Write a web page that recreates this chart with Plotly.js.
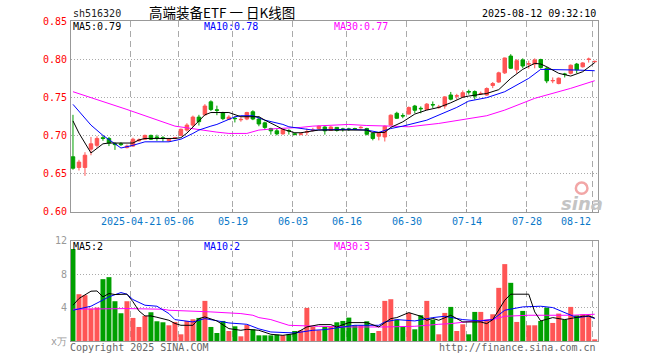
<!DOCTYPE html>
<html><head><meta charset="utf-8">
<script src="https://cdn.plot.ly/plotly-3.0.1.min.js"></script>
<style>html,body{margin:0;padding:0;background:#fff;}#chart{width:660px;height:360px;}</style>
</head><body><div id="chart"></div>
<script>
const openP = [0.672,0.658,0.658,0.682,0.687,0.697,0.696,0.689,0.689,0.684,
0.686,0.693,0.695,0.700,0.698,0.697,0.693,0.696,0.700,0.707,
0.7135,0.724,0.727,0.744,0.7335,0.730,0.721,0.7225,0.7205,0.7215,
0.731,0.7215,0.7165,0.709,0.706,0.702,0.7065,0.702,0.7015,0.704,
0.7065,0.709,0.711,0.7065,0.7105,0.7085,0.7085,0.709,0.710,0.709,
0.7025,0.699,0.698,0.7135,0.729,0.726,0.728,0.7385,0.7355,0.734,
0.7405,0.7365,0.7385,0.753,0.7515,0.7505,0.7575,0.7575,0.7545,0.753,
0.7655,0.770,0.782,0.804,0.786,0.799,0.7935,0.7935,0.7995,0.788,
0.7715,0.768,0.7805,0.7815,0.7935,0.790,0.7995,0.7965];
const closeP = [0.657,0.665,0.674,0.689,0.696,0.696,0.690,0.688,0.688,0.686,
0.695,0.694,0.700,0.695,0.697,0.696,0.695,0.697,0.708,0.7135,
0.724,0.718,0.7385,0.734,0.733,0.722,0.724,0.722,0.721,0.730,
0.7215,0.715,0.7105,0.706,0.702,0.708,0.706,0.7015,0.702,0.705,
0.707,0.712,0.706,0.711,0.7065,0.708,0.708,0.7085,0.7105,0.7015,
0.696,0.7025,0.712,0.7265,0.7225,0.7255,0.7365,0.733,0.735,0.741,
0.740,0.737,0.7505,0.7475,0.752,0.756,0.757,0.7515,0.755,0.7615,
0.768,0.782,0.8015,0.788,0.798,0.791,0.794,0.799,0.789,0.7715,
0.772,0.775,0.780,0.792,0.786,0.795,0.800,0.797];
const highP = [0.727,0.668,0.678,0.698,0.699,0.700,0.698,0.691,0.691,0.688,
0.697,0.696,0.701,0.701,0.701,0.699,0.696,0.698,0.709,0.716,
0.726,0.727,0.741,0.746,0.739,0.731,0.7265,0.725,0.724,0.731,
0.733,0.725,0.718,0.710,0.709,0.709,0.708,0.703,0.704,0.709,
0.710,0.713,0.712,0.712,0.711,0.710,0.710,0.710,0.712,0.710,
0.703,0.704,0.713,0.7275,0.731,0.729,0.738,0.740,0.738,0.7425,
0.7445,0.740,0.7515,0.757,0.7545,0.759,0.760,0.759,0.7575,0.763,
0.770,0.7835,0.802,0.8065,0.800,0.801,0.798,0.801,0.8005,0.790,
0.776,0.776,0.782,0.793,0.795,0.796,0.802,0.798];
const lowP = [0.655,0.654,0.647,0.674,0.684,0.693,0.686,0.681,0.686,0.683,
0.685,0.692,0.694,0.694,0.693,0.692,0.692,0.695,0.699,0.705,
0.711,0.713,0.726,0.732,0.7265,0.720,0.720,0.717,0.718,0.720,
0.720,0.712,0.707,0.701,0.700,0.701,0.701,0.700,0.700,0.700,
0.705,0.708,0.701,0.706,0.705,0.705,0.706,0.707,0.709,0.700,
0.6935,0.6935,0.692,0.713,0.7215,0.7225,0.7275,0.729,0.729,0.733,
0.736,0.735,0.735,0.746,0.747,0.749,0.7535,0.747,0.753,0.752,
0.762,0.769,0.7805,0.787,0.781,0.788,0.7875,0.788,0.7875,0.7685,
0.7685,0.767,0.776,0.780,0.7815,0.789,0.7955,0.7955];
const volume = [11.0,5.6,5.48,3.88,4.0,7.4,7.64,4.76,3.32,4.76,
2.76,1.68,3.0,3.44,2.36,2.24,1.88,2.28,0.8,2.4,
2.6,2.76,4.8,1.68,0.96,2.4,1.2,1.76,0.56,1.92,
1.4,0.68,0.68,0.68,0.76,0.68,0.8,1.2,1.28,3.96,
1.68,1.28,1.68,1.68,2.24,2.4,2.8,1.88,1.88,2.36,
0.96,1.2,4.8,5.0,2.56,1.68,3.36,1.4,3.08,4.8,
2.56,0.8,3.36,4.08,1.2,2.0,0.8,3.48,3.48,2.56,
3.2,6.36,9.2,6.96,2.28,3.6,1.88,1.88,2.4,4.0,
2.16,3.28,2.56,4.08,3.08,3.2,3.08,0.2];

// price moving averages (index, value)
const ma5Idx = [0,1,3,5,6,10,11,12,17,18,19,20,21,22,23,26,28,31,32,34,35,37,38,39,41,49,50,52,53,55,57,59,61,63,65,66,69,71,73,75,77,78,79,81,83,85,87];
const ma5Val = [0.719,0.703,0.677,0.689,0.690,0.690,0.694,0.696,0.696,0.697,0.703,0.7105,0.719,0.727,0.730,0.730,0.7245,0.7245,0.720,0.7122,0.708,0.7035,0.7035,0.7047,0.707,0.707,0.7035,0.704,0.7105,0.7178,0.728,0.7332,0.7367,0.7428,0.750,0.7516,0.755,0.760,0.7748,0.7866,0.7945,0.7936,0.790,0.7814,0.7778,0.7835,0.7953];
const ma10Idx = [0,3,5,8,10,12,16,18,20,21,23,24,27,28,30,32,35,36,40,46,49,51,53,55,59,61,64,66,69,72,76,78,82,84,87];
const ma10Val = [0.7407,0.7135,0.700,0.6835,0.687,0.6916,0.6916,0.695,0.7026,0.707,0.7122,0.7144,0.7244,0.7258,0.7258,0.720,0.7144,0.7113,0.707,0.708,0.707,0.704,0.709,0.7122,0.720,0.7267,0.7367,0.745,0.7495,0.7573,0.7748,0.7866,0.7866,0.7857,0.7848];
const ma30Idx = [0,9,17,18,21,24,26,29,31,34,38,40,46,49,53,56,61,65,66,69,72,77,83,87];
const ma30Val = [0.7573,0.734,0.7122,0.711,0.707,0.7043,0.7026,0.7026,0.707,0.709,0.7105,0.7122,0.7144,0.713,0.7122,0.7113,0.7157,0.721,0.7223,0.7258,0.7332,0.7486,0.7617,0.7717];

// volume moving averages (index, value)
const vma5Idx = [0,1,3,4,5,6,7,9,10,11,12,13,14,16,17,18,20,21,22,24,26,28,29,31,33,35,37,39,41,43,44,46,49,51,53,54,56,58,59,60,61,63,65,68,69,70,72,73,76,77,78,80,82,83,85,86,87];
const vma5Val = [4.28,5.08,5.96,5.99,5.28,5.68,5.56,5.6,4.7,3.6,3.0,3.0,2.84,2.48,2.1,1.88,1.88,2.68,2.88,2.4,1.48,1.28,1.4,1.28,0.8,0.68,0.88,1.68,1.96,1.96,1.68,2.2,2.2,1.68,2.68,2.8,3.4,2.96,2.48,2.7,2.48,3.08,2.28,2.28,2.08,2.56,4.88,5.6,5.6,3.48,2.4,2.8,2.56,2.7,2.96,3.0,2.75];
const vma10Idx = [0,3,6,8,9,10,12,14,16,17,20,22,26,29,31,33,37,40,42,45,47,51,52,54,57,60,62,65,68,70,72,75,78,80,82,84,86,87];
const vma10Val = [3.68,4.16,5.28,5.8,5.6,4.96,4.28,4.16,3.28,2.56,2.28,2.68,2.16,2.0,1.45,1.08,0.96,1.28,1.36,1.68,1.88,1.88,2.28,2.56,2.4,2.8,2.96,2.56,2.4,2.56,3.68,4.08,4.16,4.0,3.36,2.8,2.96,2.68];
const vma30Idx = [0,9,15,16,23,28,30,31,33,36,41,46,52,57,61,63,67,70,72,76,83,87];
const vma30Val = [3.8,3.88,3.8,3.68,3.48,3.28,3.08,2.8,2.56,1.88,1.76,1.68,1.68,1.76,2.0,2.08,2.4,2.56,2.96,3.08,3.08,3.2];

const tickIdx = [10,18,27,37,46,56,66,76,87];
const tickText = ['2025-04-21','05-06','05-19','06-03','06-16','06-30','07-14','07-28','08-12'];
const priceTicks = [0.60,0.65,0.70,0.75,0.80,0.85];
const volTicks = [0,4,8,12];
const volTickText = ['x万','4','8','12'];

const RED = '#ff5555', GREEN = '#00a000';
const MONO = 'DejaVu Sans Mono, monospace';
const idx = openP.map((_, i) => i);
const gridPos = tickIdx.map(v => v - 0.33);

const traces = [
  {type:'candlestick', x: idx, open: openP, high: highP, low: lowP, close: closeP,
   xaxis:'x', yaxis:'y', whiskerwidth:0,
   increasing:{line:{color:RED,width:1}, fillcolor:RED},
   decreasing:{line:{color:GREEN,width:1}, fillcolor:GREEN}, hoverinfo:'skip'},
  {type:'scatter', mode:'lines', x: ma30Idx, y: ma30Val, xaxis:'x', yaxis:'y', line:{color:'#ff00ff',width:1}, hoverinfo:'skip'},
  {type:'scatter', mode:'lines', x: ma10Idx, y: ma10Val, xaxis:'x', yaxis:'y', line:{color:'#0000ff',width:1}, hoverinfo:'skip'},
  {type:'scatter', mode:'lines', x: ma5Idx, y: ma5Val, xaxis:'x', yaxis:'y', line:{color:'#000000',width:1}, hoverinfo:'skip'},
  {type:'bar', x: idx, y: volume, xaxis:'x2', yaxis:'y2', width:0.83,
   marker:{color: idx.map(i => closeP[i] >= openP[i] ? RED : GREEN), line:{width:0}}, hoverinfo:'skip'},
  {type:'scatter', mode:'lines', x: vma30Idx, y: vma30Val, xaxis:'x2', yaxis:'y2', line:{color:'#ff00ff',width:1}, hoverinfo:'skip'},
  {type:'scatter', mode:'lines', x: vma10Idx, y: vma10Val, xaxis:'x2', yaxis:'y2', line:{color:'#0000ff',width:1}, hoverinfo:'skip'},
  {type:'scatter', mode:'lines', x: vma5Idx, y: vma5Val, xaxis:'x2', yaxis:'y2', line:{color:'#000000',width:1}, hoverinfo:'skip'}
];

function ann(text, x, y, xanchor, color, size, extra) {
  return Object.assign({text, x, y, xref:'paper', yref:'paper', xanchor, yanchor:'middle', showarrow:false,
    font:{family:MONO, size:size||10, color}}, extra||{});
}
const annotations = [
  ann('sh516320', 0, 1.025, 'left', '#222'),
  ann('高端装备ETF\u00a0一\u00a0日K线图', 0.2865, 1.027, 'center', '#000', 13.5, {font:{family:'Noto Sans CJK SC, sans-serif', size:13.5, color:'#000'}}),
  ann('2025-08-12 09:32:10', 1.0, 1.025, 'right', '#000'),
  ann('MA5:0.79', 0.0, 0.983, 'left', '#000'),
  ann('MA10:0.78', 0.249, 0.983, 'left', '#0000ff'),
  ann('MA30:0.77', 0.495, 0.983, 'left', '#ff00ff'),
  ann('MA5:2', 0.0, 0.2947, 'left', '#000'),
  ann('MA10:2', 0.249, 0.2947, 'left', '#0000ff'),
  ann('MA30:3', 0.495, 0.2947, 'left', '#ff00ff'),
  ann('Copyright 2025 SINA.COM', -0.006, -0.019, 'left', '#666'),
  ann('http://finance.sina.com.cn', 1.0, -0.019, 'right', '#666'),
  {text:'sina', x:0.97, y:0.43, xref:'paper', yref:'paper', xanchor:'center', yanchor:'middle', showarrow:false,
   font:{family:'DejaVu Sans, sans-serif', size:18, color:'#c4c4c4', weight:'bold', style:'italic'}}
];
tickIdx.forEach((t, k) => {
  const last = k === tickIdx.length - 1;
  annotations.push({text: tickText[k], x: t - 0.33, y: 0.3734, xref:'x', yref:'paper',
    xanchor: last ? 'right' : 'center', yanchor:'middle', showarrow:false,
    font:{family:MONO, size:10, color:'#0a78c8'}});
});

const axisLine = {showline:true, mirror:true, linecolor:'#999', linewidth:1, zeroline:false};
const layout = {
  width:660, height:360, margin:{l:71, r:62, t:21, b:19},
  paper_bgcolor:'#fff', plot_bgcolor:'#fff', showlegend:false, boxgap:0.17, bargap:0.17,
  xaxis: Object.assign({domain:[0,1], anchor:'y', range:[-0.33, 87.55], tickmode:'array', tickvals:gridPos,
    showticklabels:false, ticks:'inside', ticklen:3, tickcolor:'#999',
    showgrid:true, gridcolor:'#aaa', griddash:'6px,4px', gridwidth:1, rangeslider:{visible:false}, fixedrange:true}, axisLine),
  xaxis2: Object.assign({domain:[0,1], anchor:'y2', matches:'x', range:[-0.33, 87.55], tickmode:'array', tickvals:gridPos,
    showticklabels:false, ticks:'', showgrid:true, gridcolor:'#aaa', griddash:'6px,4px', gridwidth:1}, axisLine),
  yaxis: Object.assign({domain:[0.4041,1], anchor:'x', range:[0.60,0.85], tickmode:'array', tickvals:priceTicks,
    ticktext: priceTicks.map(v => v.toFixed(2)), tickfont:{family:MONO, size:10, color:'#ff0000'},
    ticks:'', ticklabelstandoff:1, showgrid:true, gridcolor:'#aaa', griddash:'1px,2px', gridwidth:1}, axisLine),
  yaxis2: Object.assign({domain:[0,0.3134], anchor:'x2', range:[0,12], tickmode:'array', tickvals:volTicks,
    ticktext: volTickText, tickfont:{family:MONO, size:10, color:'#999'},
    ticks:'', ticklabelstandoff:1, showgrid:true, gridcolor:'#aaa', griddash:'1px,2px', gridwidth:1}, axisLine),
  annotations,
  shapes:[{type:'circle', xref:'paper', yref:'paper', x0:0.958, x1:0.98, y0:0.46, y1:0.495,
    line:{color:'#f2a6a6', width:2.5}}]
};
Plotly.newPlot('chart', traces, layout, {displayModeBar:false, staticPlot:true});
</script></body></html>
